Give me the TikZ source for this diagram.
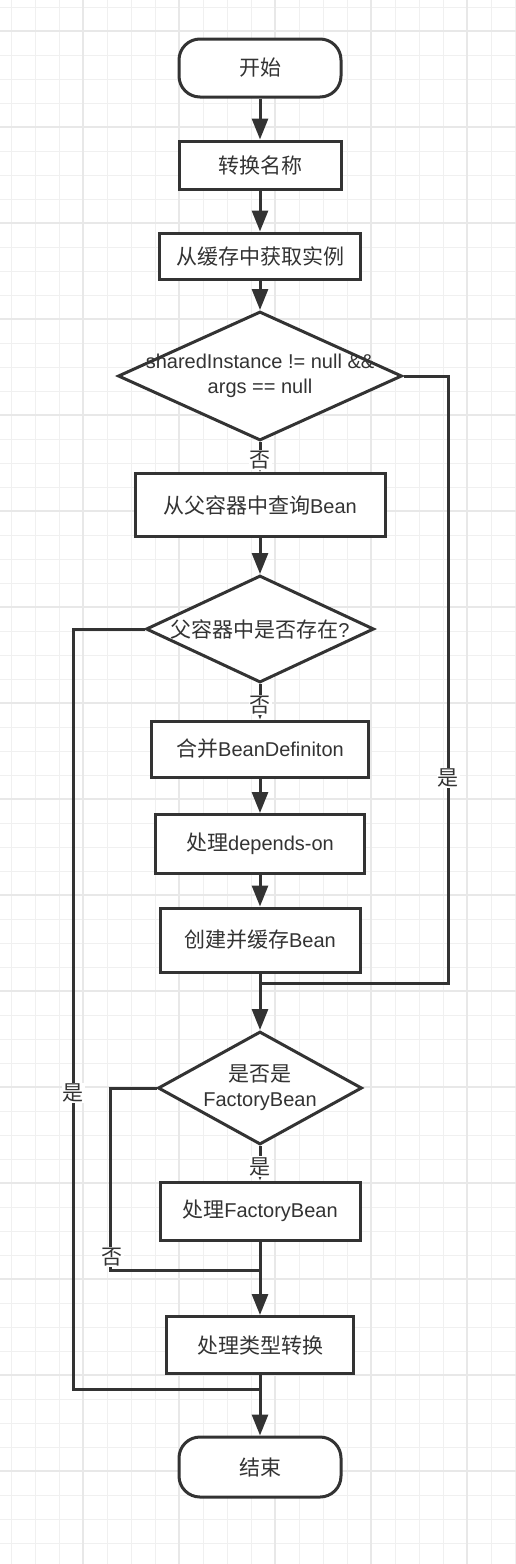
\documentclass[tikz,border=0pt]{standalone}
\usepackage{fontspec}
\setmainfont{Liberation Sans}
\newfontfamily\cjk[Scale=1.05]{Noto Sans CJK SC}
\usepackage{xcolor}
\usetikzlibrary{arrows.meta,shapes.geometric}
\definecolor{ink}{HTML}{333333}
\definecolor{gridmin}{HTML}{F0F0F0}
\definecolor{gridmaj}{HTML}{E8E8E8}

\begin{document}
\begin{tikzpicture}[x=1pt, y=-1pt,
  box/.style={draw=ink, line width=3pt, fill=white, text=ink, align=center, inner sep=2pt, font=\fontsize{20}{25}\selectfont},
  term/.style={box, rounded corners=21pt, minimum width=162pt, minimum height=58pt},
  dec/.style={diamond, draw=ink, line width=3pt, fill=white, inner sep=0pt},
  dtext/.style={text=ink, align=center, inner sep=0pt, font=\fontsize{20}{25}\selectfont},
  lbl/.style={fill=white, text=ink, inner sep=1pt, font=\fontsize{20}{22}\selectfont\cjk},
  wire/.style={draw=ink, line width=3pt},
  arr/.style={wire, -{Triangle[length=21pt, width=16pt]}},
  gmin/.style={draw=gridmin, line width=1pt},
  gmaj/.style={draw=gridmaj, line width=1.5pt}
]
\fill[white] (0,0) rectangle (516,1564);
\useasboundingbox (0,0) rectangle (516,1564);
\foreach \i in {0,...,21} { \draw[gmin] (11+24*\i,0) -- (11+24*\i,1564); }
\foreach \i in {0,...,64} { \draw[gmin] (0,7+24*\i) -- (516,7+24*\i); }
\foreach \i in {0,...,4} { \draw[gmaj] (83+96*\i,0) -- (83+96*\i,1564); }
\foreach \i in {0,...,15} { \draw[gmaj] (0,31+96*\i) -- (516,31+96*\i); }

\node[term] (start) at (260,68) {{\cjk 开始}};
\node[box, minimum width=162pt, minimum height=48pt] (b1) at (260,165) {{\cjk 转换名称}};
\node[box, minimum width=201pt, minimum height=46pt] (b2) at (260,256) {{\cjk 从缓存中获取实例}};
\node[dec, minimum width=284pt, minimum height=129pt] (d1) at (260,376) {};
\node[dtext] (t1) at (d1.center) {sharedInstance != null \&\&\\args == null};
\node[box, minimum width=250pt, minimum height=63pt] (b3) at (260,505) {{\cjk 从父容器中查询}Bean};
\node[dec, minimum width=228pt, minimum height=107pt] (d2) at (260,629) {};
\node[dtext] (t2) at (d2.center) {{\cjk 父容器中是否存在}?};
\node[box, minimum width=217pt, minimum height=56pt] (b4) at (260,749) {{\cjk 合并}BeanDefiniton};
\node[box, minimum width=209pt, minimum height=59pt] (b5) at (260,844) {{\cjk 处理}depends-on};
\node[box, minimum width=200pt, minimum height=64pt] (b6) at (260,940) {{\cjk 创建并缓存}Bean};
\node[dec, minimum width=204pt, minimum height=113pt] (d3) at (260,1088) {};
\node[dtext] (t3) at (d3.center) {{\cjk 是否是}\\FactoryBean};
\node[box, minimum width=200pt, minimum height=58pt] (b7) at (260,1211) {{\cjk 处理}FactoryBean};
\node[box, minimum width=187pt, minimum height=57pt] (b8) at (260,1345) {{\cjk 处理类型转换}};
\node[term, minimum height=60pt] (end) at (260,1467) {{\cjk 结束}};

\coordinate (r1) at (448,983); \coordinate (m1) at (260,983);
\coordinate (l1) at (73,1389); \coordinate (m3) at (260,1389);
\coordinate (l2) at (110,1270); \coordinate (m2) at (260,1270);

\draw[arr] (start) -- (b1);
\draw[arr] (b1) -- (b2);
\draw[arr] (b2) -- (d1);
\draw[arr] (d1) -- node[lbl, pos=0.6] (n1) {否} (b3);
\draw[arr] (b3) -- (d2);
\draw[arr] (d2) -- node[lbl, pos=0.6] (n2) {否} (b4);
\draw[arr] (b4) -- (b5);
\draw[arr] (b5) -- (b6);
\draw[arr] (b6) -- (d3);
\draw[arr] (d3) -- node[lbl, pos=0.6] (y3) {是} (b7);
\draw[arr] (b7) -- (b8);
\draw[arr] (b8) -- (end);
\draw[wire] (d1.east) -| (r1) -- (m1);
\draw[wire] (d2.west) -| (l1) -- (m3);
\draw[wire] (d3.west) -| (l2) -- (m2);
\node[lbl] (y1) at (448,778) {是};
\node[lbl] (y2) at (73,1093) {是};
\node[lbl] (n3) at (112,1257) {否};
\end{tikzpicture}
\end{document}
